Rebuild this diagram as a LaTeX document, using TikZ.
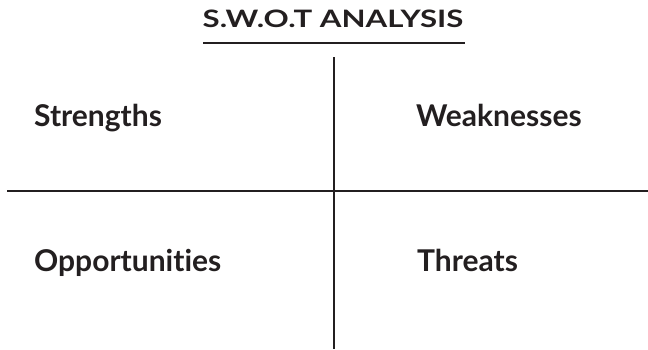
\documentclass[tikz,border=0pt]{standalone}
\usepackage{fontspec}
\setmainfont{Lato}[Ligatures=CommonOff]
\definecolor{ink}{HTML}{231F20}
\begin{document}
\begin{tikzpicture}[x=1pt,y=-1pt,
  lbl/.style={anchor=base west,inner sep=0pt,font=\fontsize{30}{34}\selectfont\bfseries,text=ink},
  rule/.style={draw=ink,line width=2pt}]
\useasboundingbox (0,0) rectangle (648,349);
\node[anchor=base,inner sep=0pt,font=\fontsize{24}{28}\selectfont\bfseries,text=ink] (title) at (333,27) {\scalebox{1.3}[1]{S.W.O.T ANALYSIS}};
\coordinate (ul) at (203,43);
\coordinate (ur) at (465,43);
\draw[rule] (ul) -- (ur);
\coordinate (vt) at (334,57);
\coordinate (vb) at (334,349);
\coordinate (hl) at (7,190.5);
\coordinate (hr) at (648,190.5);
\draw[rule] (vt) -- (vb);
\draw[rule] (hl) -- (hr);
\node[lbl] (s) at (34,126) {Strengths};
\node[lbl] (w) at (416,126) {Weaknesses};
\node[lbl] (o) at (34,271) {Opportunities};
\node[lbl] (t) at (417,271) {Threats};
\end{tikzpicture}
\end{document}
